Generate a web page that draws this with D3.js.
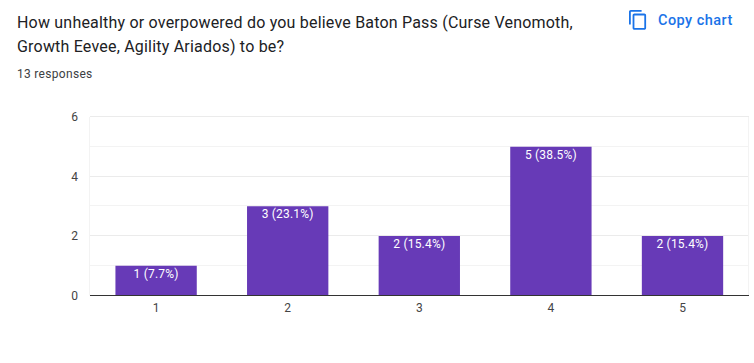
<!DOCTYPE html>
<html>
<head>
<meta charset="utf-8">
<script src="https://cdn.jsdelivr.net/npm/d3@7"></script>
<style>
html, body { margin: 0; padding: 0; background: #fff; overflow: hidden; }
svg { display: block; }
text { font-family: Roboto, sans-serif; }
</style>
</head>
<body>
<svg id="chart" width="754" height="363"></svg>
<script>
const categories = ["1", "2", "3", "4", "5"];
const counts = [1, 3, 2, 5, 2];
const barLabels = ["1 (7.7%)", "3 (23.1%)", "2 (15.4%)", "5 (38.5%)", "2 (15.4%)"];
const yTicks = [0, 1, 2, 3, 4, 5, 6];
const yLabels = [0, 2, 4, 6];
const titleLines = [
	"How unhealthy or overpowered do you believe Baton Pass (Curse Venomoth,",
	"Growth Eevee, Agility Ariados) to be?"
];
const subtitle = "13 responses";
const copyLabel = "Copy chart";

const svg = d3.select("#chart");

// header text
svg.selectAll("text.title")
	.data(titleLines)
	.enter()
	.append("text")
	.attr("class", "title")
	.attr("x", 17)
	.attr("y", (d, i) => 28 + i * 24)
	.attr("font-size", 16)
	.attr("letter-spacing", 0.2)
	.attr("fill", "#202124")
	.text(d => d);

svg.append("text")
	.attr("x", 17)
	.attr("y", 78)
	.attr("font-size", 12)
	.attr("letter-spacing", 0.3)
	.attr("fill", "#3c4043")
	.text(subtitle);

// copy chart button
const copyIcon = svg.append("g")
	.attr("transform", "translate(627.2,9.1) scale(0.9)")
	.attr("fill", "#1a73e8");
copyIcon.append("path")
	.attr("d", "M16 1H4c-1.1 0-2 .9-2 2v14h2V3h12V1zm3 4H8c-1.1 0-2 .9-2 2v14c0 1.100.9 2 2 2h11c1.100 0 2-.9 2-2V7c0-1.100-.9-2-2-2zm0 16H8V7h11v14z");

svg.append("text")
	.attr("x", 658)
	.attr("y", 25)
	.attr("font-size", 14.5)
	.attr("letter-spacing", 0.45)
	.attr("font-weight", 500)
	.attr("fill", "#1a73e8")
	.text(copyLabel);

// scales
const plotLeft = 90, plotRight = 749, plotTop = 117, plotBottom = 295.5;

const x = d3.scaleBand()
	.domain(categories)
	.range([plotLeft + 0.3, plotRight - 0.7])
	.paddingInner(0.382)
	.paddingOuter(0.191);

const y = d3.scaleLinear()
	.domain([0, 6])
	.range([plotBottom, plotTop]);

// gridlines
svg.append("g")
	.selectAll("line")
	.data(yTicks.filter(d => d > 0))
	.enter()
	.append("line")
	.attr("x1", plotLeft)
	.attr("x2", plotRight)
	.attr("y1", d => Math.round(y(d)) - 0.5)
	.attr("y2", d => Math.round(y(d)) - 0.5)
	.attr("stroke", d => d % 2 == 0 ? "#ebebeb" : "#f3f3f3");

// left and right edges of the plot
svg.append("g")
	.selectAll("line")
	.data([plotLeft, plotRight])
	.enter()
	.append("line")
	.attr("x1", d => d - 0.5)
	.attr("x2", d => d - 0.5)
	.attr("y1", plotTop)
	.attr("y2", plotBottom)
	.attr("stroke", "#f3f3f3");

// bars
svg.append("g")
	.selectAll("rect")
	.data(counts)
	.enter()
	.append("rect")
	.attr("x", (d, i) => x(categories[i]))
	.attr("y", d => y(d))
	.attr("width", x.bandwidth())
	.attr("height", d => y(0) - y(d))
	.attr("fill", "#673ab7");

// labels inside the bars
svg.append("g")
	.selectAll("text")
	.data(counts)
	.enter()
	.append("text")
	.attr("x", (d, i) => x(categories[i]) + x.bandwidth() / 2)
	.attr("y", d => y(d) + 12)
	.attr("text-anchor", "middle")
	.attr("font-size", 12)
	.attr("letter-spacing", 0.2)
	.attr("fill", "#fff")
	.text((d, i) => barLabels[i]);

// axes
const xAxis = d3.axisBottom(x).tickSize(0).tickPadding(8);
const gx = svg.append("g")
	.attr("transform", "translate(0,295)")
	.call(xAxis);
gx.select(".domain").remove();
gx.selectAll("text")
	.attr("font-size", 12)
	.attr("font-family", "Roboto, sans-serif")
	.attr("fill", "#444");

svg.append("line")
	.attr("x1", plotLeft)
	.attr("x2", plotRight)
	.attr("y1", 295.5)
	.attr("y2", 295.5)
	.attr("stroke", "#333");

const yAxis = d3.axisLeft(y).tickValues(yLabels).tickFormat(d3.format("d")).tickSize(0).tickPadding(12);
const gy = svg.append("g")
	.attr("transform", "translate(" + plotLeft + ",0)")
	.call(yAxis);
gy.select(".domain").remove();
gy.selectAll("text")
	.attr("font-size", 12)
	.attr("font-family", "Roboto, sans-serif")
	.attr("fill", "#444");
</script>
</body>
</html>
